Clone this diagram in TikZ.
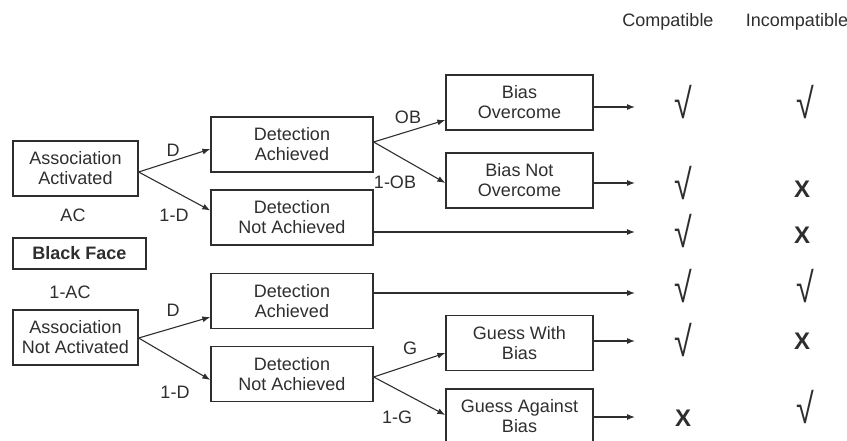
\documentclass[tikz,border=0pt]{standalone}
\usepackage{fontspec}
\setmainfont{Liberation Sans}
\usetikzlibrary{arrows.meta,calc}
\definecolor{ink}{HTML}{2E2E2E}
\newcommand{\ck}{\scalebox{1.15}[1.5]{√}}
\tikzset{
  box/.style={draw=ink,line width=1.3pt,text=ink,align=center,inner sep=0pt,
    font=\fontsize{18}{20}\selectfont},
  bigbox/.style={box,minimum width=#1,minimum height=55pt},
  lbl/.style={text=ink,inner sep=0pt,font=\fontsize{18}{20}\selectfont},
  arr/.style={draw=ink,line width=1.1pt,-{Latex[length=8pt,width=6pt]}},
  ckmark/.style={text=ink,inner sep=0pt,font=\fontsize{28}{30}\selectfont},
  xmark/.style={text=ink,inner sep=0pt,font=\fontsize{24}{26}\selectfont\bfseries},
}
\begin{document}
\begin{tikzpicture}[x=1pt,y=-1pt]
\useasboundingbox (0,0) rectangle (847,441);
% left column
\node[bigbox=125pt] (aa) at (75.5,168.5) {Association\\Activated};
\node[lbl] (ac) at (73,215) {AC};
\node[box,minimum width=133pt,minimum height=31pt,font=\fontsize{18}{20}\selectfont\bfseries] (bf) at (79.5,253.5) {Black Face};
\node[lbl] (nac) at (70,292) {1-AC};
\node[bigbox=125pt] (ana) at (75.5,337.5) {Association\\Not Activated};
% middle column
\node[bigbox=162pt] (da1) at (292,144.5) {Detection\\Achieved};
\node[bigbox=162pt] (dna1) at (292,217.5) {Detection\\Not Achieved};
\node[bigbox=162pt] (da2) at (292,301) {Detection\\Achieved};
\node[bigbox=162pt] (dna2) at (292,374) {Detection\\Not Achieved};
% right column
\node[bigbox=147pt] (bo) at (519.5,102.5) {Bias\\Overcome};
\node[bigbox=147pt] (bno) at (519.5,180.5) {Bias Not\\Overcome};
\node[bigbox=147pt] (gwb) at (519.5,343) {Guess With\\Bias};
\node[bigbox=147pt] (gab) at (519.5,416.5) {Guess Against\\Bias};
% branches
\draw[arr] ($(aa.east)+(0,3.5)$) -- ($(da1.west)+(0,4.5)$);
\draw[arr] ($(aa.east)+(0,3.5)$) -- ($(dna1.west)+(0,-7)$);
\draw[arr] ($(ana.east)+(0,0.5)$) -- ($(da2.west)+(0,16)$);
\draw[arr] ($(ana.east)+(0,0.5)$) -- ($(dna2.west)+(0,6)$);
\draw[arr] ($(da1.east)+(0,-2.5)$) -- ($(bo.west)+(0,17.5)$);
\draw[arr] ($(da1.east)+(0,-2.5)$) -- ($(bno.west)+(0,2.5)$);
\draw[arr] ($(dna2.east)+(0,3)$) -- ($(gwb.west)+(0,10)$);
\draw[arr] ($(dna2.east)+(0,3)$) -- ($(gab.west)+(0,-1.5)$);
\node[lbl] (ld1) at (173,150) {D};
\node[lbl] (l1d1) at (174,215) {1-D};
\node[lbl] (ld2) at (173,310) {D};
\node[lbl] (l1d2) at (175,392) {1-D};
\node[lbl] (lob) at (408,117) {OB};
\node[lbl] (l1ob) at (395,182) {1-OB};
\node[lbl] (lg) at (410,348) {G};
\node[lbl] (l1g) at (397,417) {1-G};
% outcome arrows
\coordinate (e1) at (635,107);
\coordinate (e2) at (635,183);
\coordinate (e3) at (635,232);
\coordinate (e4) at (635,293);
\coordinate (e5) at (635,341);
\coordinate (e6) at (635,417);
\draw[arr] (bo.east |- e1) -- (e1);
\draw[arr] (bno.east |- e2) -- (e2);
\draw[arr] (dna1.east |- e3) -- (e3);
\draw[arr] (da2.east |- e4) -- (e4);
\draw[arr] (gwb.east |- e5) -- (e5);
\draw[arr] (gab.east |- e6) -- (e6);
% headers
\node[lbl] (hc) at (668,22) {Compatible};
\node[lbl] (hi) at (797,22) {Incompatible};
% marks
\node[ckmark] (c1) at (683,102) {\ck};
\node[ckmark] (i1) at (805,102) {\ck};
\node[ckmark] (c2) at (683,183) {\ck};
\node[xmark] (i2) at (802,189) {X};
\node[ckmark] (c3) at (683,231) {\ck};
\node[xmark] (i3) at (802,235) {X};
\node[ckmark] (c4) at (683,286) {\ck};
\node[ckmark] (i4) at (805,286) {\ck};
\node[ckmark] (c5) at (683,340) {\ck};
\node[xmark] (i5) at (802,341) {X};
\node[xmark] (c6) at (683,418) {X};
\node[ckmark] (i6) at (805,407) {\ck};
\end{tikzpicture}
\end{document}
